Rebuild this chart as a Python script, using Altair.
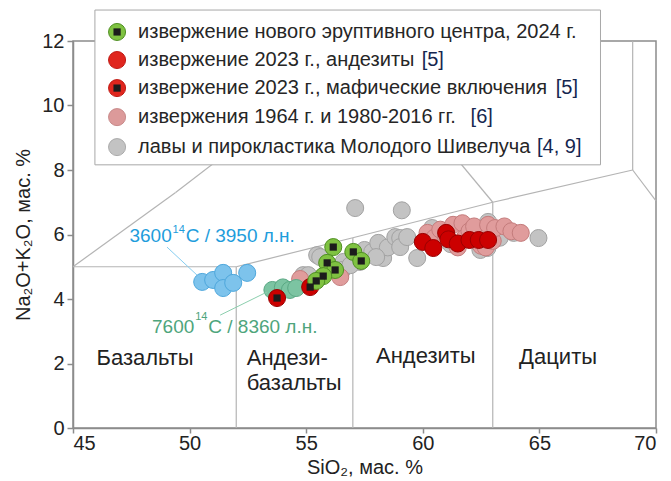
import altair as alt
import pandas as pd

FONT = "Liberation Sans"

# ---------------- data (SiO2, Na2O+K2O) ----------------
young_x = [54.87, 55.09, 55.47, 55.6, 56.6, 56.55, 57.3, 57.5, 57.83, 58.09, 58.3, 58.5,
           58.82, 59.03, 59.03, 59.33, 59.76, 57.1, 59.1, 60.4, 62.47, 62.77, 62.8, 63.9,
           64.96, 61.2, 63.3, 58.0, 56.9]
young_y = [4.74, 4.74, 5.36, 5.3, 5.15, 4.9, 5.15, 5.52, 5.46, 5.74, 5.27, 5.6,
           5.92, 5.89, 5.61, 5.92, 5.27, 6.82, 6.75, 6.2, 5.52, 5.58, 6.39, 6.05,
           5.89, 5.7, 5.9, 5.3, 5.05]

pink_x = [54.74, 56.46, 60.2, 60.5, 60.75, 61.0, 61.3, 61.5, 61.7, 61.8, 62.0, 62.2,
          62.5, 62.7, 62.8, 63.0, 63.1, 63.5, 63.8, 64.2]
pink_y = [4.62, 4.68, 6.05, 5.9, 6.15, 5.9, 6.3, 5.6, 6.35, 5.9, 6.1, 6.25,
          5.65, 5.6, 6.3, 5.8, 6.2, 6.25, 6.1, 6.05]

blue_x = [50.54, 51.01, 51.44, 52.47, 51.44, 51.87]
blue_y = [4.53, 4.59, 4.81, 4.81, 4.34, 4.50]

teal_x = [53.55, 54.0, 54.3, 54.57]
teal_y = [4.28, 4.36, 4.28, 4.34]

red_x = [60.0, 60.45, 61.0, 61.1, 61.5, 62.0, 62.4, 62.8]
red_y = [5.77, 5.58, 6.05, 5.85, 5.72, 5.83, 5.83, 5.83]

mafic_x = [53.75, 55.17]
mafic_y = [4.03, 4.37]

new_x = [56.16, 57.02, 57.36, 55.90, 56.24, 55.73, 55.43]
new_y = [5.61, 5.46, 5.18, 5.12, 4.90, 4.71, 4.56]

groups = ["young", "pink", "blue", "teal", "red", "mafic", "new"]
fills = ["#c3c3c3", "#e09c9c", "#7dc3ec", "#7cc4a2", "#cc0000", "#cc0000", "#7fc241"]
strokes = ["#a2a2a2", "#c47c7c", "#4ea7dc", "#5aa884", "#9a0000", "#9a0000", "#4f8f22"]

# TAS boundary segments
seg_x1 = [45, 49.4, 53, 57.6, 45, 52, 57, 63, 52, 57, 63, 63, 69, 69]
seg_y1 = [5, 7.3, 9.3, 11.7, 5, 5, 5.9, 7, 0, 0, 0, 7, 8, 8]
seg_x2 = [49.4, 53, 57.6, 58.17, 52, 57, 63, 69, 52, 57, 63, 57.6, 69, 70]
seg_y2 = [7.3, 9.3, 11.7, 12, 5, 5.9, 7, 8, 5, 5.9, 7, 11.7, 12, 7.04]

# field labels
field_text = ["Базальты", "Андези-", "базальты", "Андезиты", "Дациты"]
field_x = [48.09, 52.45, 52.45, 60.13, 65.8]
field_y = [2.17, 2.17, 1.40, 2.23, 2.2]
field_align = ["center", "left", "left", "center", "center"]

# annotations (main text, superscript, rest)
ann_main = ["3600", "7600"]
ann_main_x = [47.42, 48.39]
ann_sup = ["14", "14"]
ann_sup_x = [49.27, 50.24]
ann_sup_y = [6.13, 3.43]
ann_rest = ["C / 3950 л.н.", "C / 8360 л.н."]
ann_rest_x = [49.83, 50.80]
ann_y = [5.95, 3.13]
ann_color = ["#1e9ddc", "#4ea57c"]
lead_x1 = [49.03, 51.31]
lead_y1 = [5.61, 3.50]
lead_x2 = [50.32, 53.33]
lead_y2 = [4.74, 4.22]
lead_color = ["#86cdf0", "#8ccfae"]

# legend
leg_labels = ["извержение нового эруптивного центра, 2024 г.",
              "извержение 2023 г., андезиты",
              "извержение 2023 г., мафические включения",
              "извержения 1964 г. и 1980-2016 гг.",
              "лавы и пирокластика Молодого Шивелуча"]
leg_refs = ["", "[5]", "[5]", "[6]", "[4, 9]"]
leg_ref_x = [0, 59.95, 65.70, 62.05, 64.90]
leg_fill = ["#7fc241", "#e0261e", "#e0261e", "#dc9a9a", "#c3c3c3"]
leg_stroke = ["#4f8f22", "#c01a14", "#c01a14", "#c88a8a", "#aaaaaa"]
leg_square = [True, False, True, False, False]
leg_y = [12.28, 11.41, 10.54, 9.64, 8.71]
leg_sym_x = 46.89
leg_txt_x = 47.79
leg_box = dict(x=45.94, x2=67.62, y=8.16, y2=12.96)

# ---------------- tables ----------------
rows = []
for g, xs, ys in [("young", young_x, young_y), ("pink", pink_x, pink_y),
                  ("blue", blue_x, blue_y), ("teal", teal_x, teal_y),
                  ("red", red_x, red_y), ("mafic", mafic_x, mafic_y),
                  ("new", new_x, new_y)]:
    for a, b in zip(xs, ys):
        rows.append({"g": g, "x": a, "y": b})
pts = pd.DataFrame(rows)
pts["o"] = range(len(pts))

segs = pd.DataFrame({"x": seg_x1, "y": seg_y1, "x2": seg_x2, "y2": seg_y2})
fields = pd.DataFrame({"t": field_text, "x": field_x, "y": field_y, "a": field_align})
ann = pd.DataFrame({"m": ann_main, "mx": ann_main_x, "s": ann_sup, "sx": ann_sup_x,
                    "sy": ann_sup_y, "r": ann_rest, "rx": ann_rest_x, "y": ann_y,
                    "c": ann_color})
leads = pd.DataFrame({"x": lead_x1, "y": lead_y1, "x2": lead_x2, "y2": lead_y2, "c": lead_color})
leg = pd.DataFrame({"t": leg_labels, "r": leg_refs, "rx": leg_ref_x, "f": leg_fill,
                    "s": leg_stroke, "sq": leg_square,
                    "y": leg_y, "xs": leg_sym_x, "xt": leg_txt_x})
box = pd.DataFrame([leg_box])

xsc = alt.Scale(domain=[45, 70], nice=False, zero=False)
ysc = alt.Scale(domain=[0, 12], nice=False, zero=False)

X = alt.X("x:Q", scale=xsc, title="SiO₂, мас. %",
          axis=alt.Axis(values=[45, 50, 55, 60, 65, 70], tickSize=5, grid=False,
                        labelFontSize=20, titleFontSize=20, titlePadding=4,
                        labelPadding=0))
Y = alt.Y("y:Q", scale=ysc, title="Na₂O+K₂O, мас. %",
          axis=alt.Axis(values=list(range(0, 13)), tickSize=6, grid=False,
                        labelExpr="datum.value % 2 == 0 ? datum.label : ''",
                        labelFontSize=20, titleFontSize=20, titlePadding=8,
                        labelPadding=3))

lines = alt.Chart(segs).mark_rule(color="#b4b4b4", strokeWidth=1.2).encode(
    x=X, y=Y, x2="x2:Q", y2="y2:Q")

points = alt.Chart(pts).mark_circle(size=290, opacity=1, strokeWidth=1).encode(
    x="x:Q", y="y:Q",
    fill=alt.Fill("g:N", scale=alt.Scale(domain=groups, range=fills), legend=None),
    stroke=alt.Stroke("g:N", scale=alt.Scale(domain=groups, range=strokes), legend=None),
    order="o:Q")

squares = alt.Chart(pts).transform_filter(
    alt.FieldOneOfPredicate(field="g", oneOf=["mafic", "new"])
).mark_square(size=52, color="#1c1c1c", opacity=1).encode(x="x:Q", y="y:Q", order="o:Q")

field_center = alt.Chart(fields[fields.a == "center"]).mark_text(
    fontSize=22, font=FONT, color="#222222", baseline="middle", align="center").encode(
    x="x:Q", y="y:Q", text="t:N")
field_left = alt.Chart(fields[fields.a == "left"]).mark_text(
    fontSize=22, font=FONT, color="#222222", baseline="middle", align="left").encode(
    x="x:Q", y="y:Q", text="t:N")

lead = alt.Chart(leads).mark_rule(strokeWidth=1).encode(
    x="x:Q", y="y:Q", x2="x2:Q", y2="y2:Q", color=alt.Color("c:N", scale=None))
ann_base = alt.Chart(ann)
ann_m = ann_base.mark_text(fontSize=19, font=FONT, baseline="middle", align="left").encode(
    x="mx:Q", y="y:Q", text="m:N", color=alt.Color("c:N", scale=None))
ann_s = ann_base.mark_text(fontSize=11, font=FONT, baseline="middle", align="left").encode(
    x="sx:Q", y="sy:Q", text="s:N", color=alt.Color("c:N", scale=None))
ann_r = ann_base.mark_text(fontSize=19, font=FONT, baseline="middle", align="left").encode(
    x="rx:Q", y="y:Q", text="r:N", color=alt.Color("c:N", scale=None))

leg_rect = alt.Chart(box).mark_rect(fill="white", stroke="#a8a8a8", strokeWidth=1).encode(
    x="x:Q", x2="x2:Q", y="y:Q", y2="y2:Q")
leg_sym = alt.Chart(leg).mark_circle(size=290, opacity=1, strokeWidth=1).encode(
    x="xs:Q", y="y:Q", fill=alt.Fill("f:N", scale=None), stroke=alt.Stroke("s:N", scale=None))
leg_sq = alt.Chart(leg[leg.sq]).mark_square(size=52, color="#1c1c1c", opacity=1).encode(
    x="xs:Q", y="y:Q")
leg_txt = alt.Chart(leg).mark_text(fontSize=20, font=FONT, color="#262626", align="left",
                                   baseline="middle").encode(x="xt:Q", y="y:Q", text="t:N")
leg_ref = alt.Chart(leg[leg.r != ""]).mark_text(fontSize=20, font=FONT, color="#15264f",
                                               align="left", baseline="middle").encode(
    x="rx:Q", y="y:Q", text="r:N")

chart = alt.layer(lines, points, squares, field_center, field_left, lead, ann_m, ann_s,
                  ann_r, leg_rect, leg_sym, leg_sq, leg_txt, leg_ref).properties(
    width=583, height=387,
    autosize=alt.AutoSizeParams(type="none"),
    padding={"left": 73, "top": 41, "right": 15, "bottom": 53},
    background="white",
).configure_view(stroke="#8c8c8c", strokeWidth=1.5).configure_axis(
    domainColor="#8c8c8c", domainWidth=1.5, tickColor="#8c8c8c", tickWidth=1.5,
    labelColor="#222222", titleColor="#222222", labelFont=FONT, titleFont=FONT,
    titleFontWeight="normal")

chart.save("out.html", embed_options={"renderer": "svg", "actions": False})
